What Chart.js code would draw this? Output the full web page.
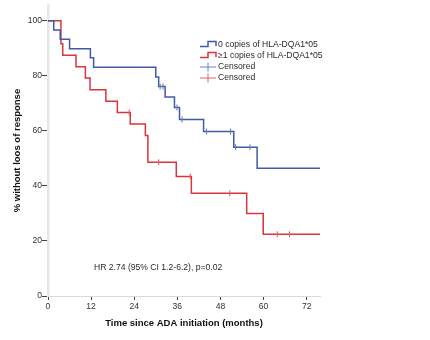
<!DOCTYPE html>
<html>
<head>
<meta charset="utf-8">
<script src="https://cdn.jsdelivr.net/npm/chart.js@4.4.1/dist/chart.umd.min.js"></script>
<style>
html,body{margin:0;padding:0;background:#fff;}
#wrap{width:430px;height:340px;}
</style>
</head>
<body>
<div id="wrap"><canvas id="c" width="430" height="340"></canvas></div>
<script>
// ---- data ----
const seriesLabels = ["0 copies of HLA-DQA1*05", "\u22651 copies of HLA-DQA1*05"];
const censorLabel = "Censored";
const blueTimes = [0, 1.6, 3.4, 6.0, 11.8, 12.7, 30.0, 30.8, 32.6, 35.2, 36.6, 43.3, 51.7, 58.2, 75.7];
const blueSurv  = [100, 96.7, 93.3, 89.9, 86.6, 83.1, 79.6, 76.1, 72.3, 68.5, 64.1, 59.8, 54.1, 46.4, 46.4];
const blueCensorTimes = [31.2, 32.0, 35.9, 37.3, 44.1, 50.8, 52.2, 56.2];
const blueCensorSurv  = [76.1, 76.1, 68.5, 64.1, 59.8, 59.8, 54.1, 54.1];
const redTimes = [0, 3.6, 4.1, 7.8, 10.4, 11.7, 16.1, 19.3, 22.9, 27.1, 27.8, 35.7, 39.9, 55.3, 59.9, 75.7];
const redSurv  = [100, 91.7, 87.5, 83.3, 79.2, 75.0, 70.8, 66.7, 62.5, 58.3, 48.6, 43.4, 37.3, 30.0, 22.4, 22.4];
const redCensorTimes = [22.6, 30.8, 39.6, 50.6, 63.8, 67.2];
const redCensorSurv  = [66.7, 48.6, 43.4, 37.3, 22.4, 22.4];
const xTickValues = [0, 12, 24, 36, 48, 60, 72];
const yTickValues = [0, 20, 40, 60, 80, 100];
const xTitle = "Time since ADA initiation (months)";
const yTitle = "% without loos of response";
const annotationText = "HR 2.74 (95% CI 1.2-6.2), p=0.02";

// ---- styles ----
const BLUE = "#3f5aa8";
const RED = "#d9353d";
const BLUE_C = "#6b80c6";
const RED_C = "#e0606a";
const FONT = "'Liberation Sans', Arial, sans-serif";

function pts(xs, ys){ return xs.map((x,i)=>({x:x, y:ys[i]})); }

const overlay = {
  id: "overlay",
  afterDraw(chart){
    const ctx = chart.ctx;
    const xs = chart.scales.x, ys = chart.scales.y;
    ctx.save();
    ctx.font = "8.6px " + FONT;
    ctx.fillStyle = "#2a2a2a";
    ctx.textBaseline = "middle";
    ctx.textAlign = "left";
    // annotation
    ctx.fillText(annotationText, xs.getPixelForValue(12.8), ys.getPixelForValue(10.2));
    // legend
    const lx = 200, tx = 218;
    const rows = [45, 56, 67, 78];
    ctx.lineWidth = 1.5;
    [[BLUE, rows[0]], [RED, rows[1]]].forEach(([col, y]) => {
      ctx.strokeStyle = col;
      ctx.beginPath();
      ctx.moveTo(lx, y + 1.5);
      ctx.lineTo(lx + 8, y + 1.5);
      ctx.lineTo(lx + 8, y - 3.5);
      ctx.lineTo(lx + 16, y - 3.5);
      ctx.lineTo(lx + 16, y + 1);
      ctx.stroke();
    });
    ctx.lineWidth = 1;
    [[BLUE_C, rows[2]], [RED_C, rows[3]]].forEach(([col, y]) => {
      ctx.strokeStyle = col;
      ctx.beginPath();
      ctx.moveTo(lx, y); ctx.lineTo(lx + 16, y);
      ctx.moveTo(lx + 8, y - 4.5); ctx.lineTo(lx + 8, y + 4.5);
      ctx.stroke();
    });
    ctx.fillText(seriesLabels[0], tx, rows[0]);
    ctx.fillText(seriesLabels[1], tx, rows[1]);
    ctx.fillText(censorLabel, tx, rows[2]);
    ctx.fillText(censorLabel, tx, rows[3]);
    ctx.restore();
  }
};

new Chart(document.getElementById("c"), {
  type: "line",
  data: {
    datasets: [
      { label: seriesLabels[0], data: pts(blueTimes, blueSurv), borderColor: BLUE, borderWidth: 1.5,
        stepped: "before", pointRadius: 0, fill: false, order: 2 },
      { label: seriesLabels[1], data: pts(redTimes, redSurv), borderColor: RED, borderWidth: 1.5,
        stepped: "before", pointRadius: 0, fill: false, order: 3 },
      { label: censorLabel, data: pts(blueCensorTimes, blueCensorSurv), showLine: false,
        pointStyle: "line", rotation: 90, pointRadius: 3, borderColor: BLUE_C, pointBorderWidth: 1.1, order: 0 },
      { label: censorLabel, data: pts(redCensorTimes, redCensorSurv), showLine: false,
        pointStyle: "line", rotation: 90, pointRadius: 3, borderColor: RED_C, pointBorderWidth: 1.1, order: 1 }
    ]
  },
  options: {
    responsive: false,
    devicePixelRatio: 1,
    animation: false,
    layout: { padding: { top: 5, right: 110, bottom: 0, left: 0 } },
    plugins: { legend: { display: false }, tooltip: { enabled: false } },
    scales: {
      x: {
        type: "linear", min: 0, max: 75.7,
        afterBuildTicks: s => { s.ticks = xTickValues.map(v => ({ value: v })); },
        afterFit: s => { s.height = 44; },
        border: { display: true, color: "#d9d9d9", width: 1 },
        grid: { display: true, drawOnChartArea: false, drawTicks: true, tickLength: 4, tickColor: "#444", tickWidth: 1 },
        ticks: { font: { family: FONT, size: 8.6 }, color: "#333", padding: 1, maxRotation: 0 },
        title: { display: true, text: xTitle, color: "#111", font: { family: FONT, size: 9.5, weight: "bold" },
                 padding: { top: 0, bottom: 11 } }
      },
      y: {
        type: "linear", min: 0, max: 105.7,
        afterBuildTicks: s => { s.ticks = yTickValues.map(v => ({ value: v })); },
        afterFit: s => { s.width = 48; },
        border: { display: true, color: "#e6e6e6", width: 2.5 },
        grid: { display: true, drawOnChartArea: false, drawTicks: true, tickLength: 6, tickColor: "#444", tickWidth: 1 },
        ticks: { font: { family: FONT, size: 8.6 }, color: "#333", padding: 0 },
        title: { display: true, text: yTitle, color: "#111", font: { family: FONT, size: 9.5, weight: "bold" },
                 padding: { top: 12, bottom: 0 } }
      }
    }
  },
  plugins: [overlay]
});
</script>
</body>
</html>
